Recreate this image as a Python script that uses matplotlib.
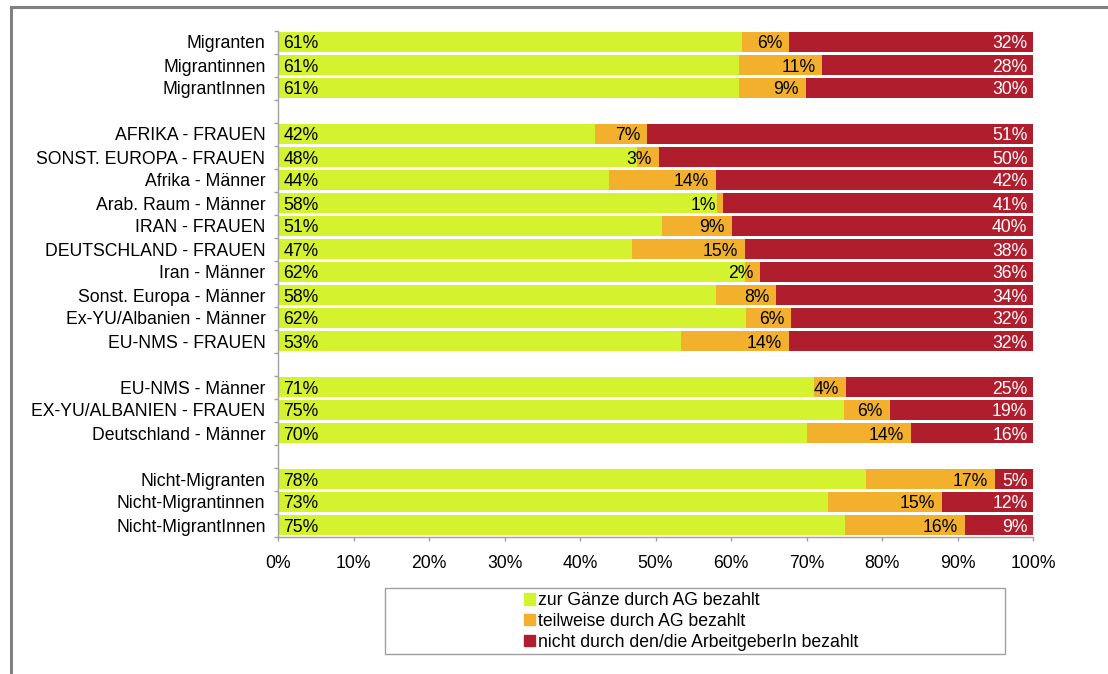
import matplotlib.pyplot as plt
from matplotlib.patches import Rectangle, Patch
from matplotlib.lines import Line2D
import numpy as np

plt.rcParams['font.family'] = ['Liberation Sans', 'DejaVu Sans']
plt.rcParams['font.size'] = 12.7

# data (shares in %), top to bottom
categories = ['Migranten', 'Migrantinnen', 'MigrantInnen',
              'AFRIKA - FRAUEN', 'SONST. EUROPA - FRAUEN', 'Afrika - Männer',
              'Arab. Raum - Männer', 'IRAN - FRAUEN', 'DEUTSCHLAND - FRAUEN',
              'Iran - Männer', 'Sonst. Europa - Männer', 'Ex-YU/Albanien - Männer',
              'EU-NMS - FRAUEN',
              'EU-NMS - Männer', 'EX-YU/ALBANIEN - FRAUEN', 'Deutschland - Männer',
              'Nicht-Migranten', 'Nicht-Migrantinnen', 'Nicht-MigrantInnen']
group_sizes = [3, 10, 3, 3]
full = [61.4, 61.0, 61.0,
        42.0, 47.6, 43.8, 58.1, 50.9, 46.9, 61.9, 58.0, 62.0, 53.4,
        71.0, 75.0, 70.0,
        77.9, 72.8, 75.1]
partial = [6.3, 11.1, 8.9,
           6.9, 2.8, 14.2, 0.8, 9.2, 15.0, 2.0, 8.0, 6.0, 14.3,
           4.2, 6.0, 13.8,
           17.1, 15.2, 15.9]
nopay = [32.3, 27.9, 30.1,
         51.1, 49.6, 42.0, 41.1, 39.9, 38.1, 36.1, 34.0, 32.0, 32.3,
         24.8, 19.0, 16.2,
         5.0, 12.0, 9.0]
series_names = ['zur Gänze durch AG bezahlt', 'teilweise durch AG bezahlt',
                'nicht durch den/die ArbeitgeberIn bezahlt']

c_green = '#D4F22E'
c_orange = '#F2B02C'
c_red = '#B01E2E'
grey = '#A0A0A0'

# slot positions with an empty slot between groups
slots = []
s = 0
for g in group_sizes:
    slots += list(range(s, s + g))
    s += g + 1
last = slots[-1]
y = np.array(slots)

full = np.array(full)
partial = np.array(partial)
nopay = np.array(nopay)

W, H = 1108, 674
fig = plt.figure(figsize=(W / 100, H / 100), dpi=100)
ax = fig.add_axes([278 / W, 1 - 536.5 / H, (1033 - 278) / W, (536.5 - 30.5) / H])

h = 0.85
ax.barh(y, full, height=h, color=c_green, label=series_names[0])
ax.barh(y, partial, left=full, height=h, color=c_orange, label=series_names[1])
ax.barh(y, nopay, left=full + partial, height=h, color=c_red, label=series_names[2])

for yi, a, b, c in zip(y, full, partial, nopay):
    ax.annotate(f'{round(a)}%', (0, yi), xytext=(4, 0), textcoords='offset points',
                ha='left', va='center_baseline', color='black')
    ax.annotate(f'{round(b)}%', (a + b, yi), xytext=(-5, 0), textcoords='offset points',
                ha='right', va='center_baseline', color='black')
    ax.annotate(f'{round(c)}%', (100, yi), xytext=(-4, 0), textcoords='offset points',
                ha='right', va='center_baseline', color='white')

ax.set_xlim(0, 100)
ax.set_ylim(last + 0.5, -0.5)
ax.set_xticks(np.arange(0, 101, 10))
ax.set_xticklabels([f'{v}%' for v in range(0, 101, 10)])
ax.set_yticks(y)
ax.set_yticklabels(categories)
ax.set_yticks(np.arange(-0.5, last + 1, 1), minor=True)
ax.tick_params(axis='y', which='major', length=0, pad=9)
ax.tick_params(axis='y', which='minor', length=3, color=grey, width=1)
ax.tick_params(axis='x', length=3, color=grey, width=1, pad=10)
for sp in ['top', 'right']:
    ax.spines[sp].set_visible(False)
for sp in ['left', 'bottom']:
    ax.spines[sp].set_color(grey)
    ax.spines[sp].set_linewidth(1)

# legend box
fig.patches.append(Rectangle((385 / W, 1 - 654 / H), (1005 - 385) / W, (654 - 588) / H,
                             transform=fig.transFigure, fill=False, edgecolor=grey, lw=1))
handles = [Patch(color=c_green), Patch(color=c_orange), Patch(color=c_red)]
fig.legend(handles, series_names, loc='upper left', bbox_to_anchor=(524 / W, 1 - 592 / H),
           frameon=False, borderpad=0, handlelength=0.62, handleheight=0.62,
           handletextpad=0.2, labelspacing=0.22, borderaxespad=0)

# outer frame lines
fig.add_artist(Line2D([10.5 / W, 1], [1 - 6.5 / H, 1 - 6.5 / H], transform=fig.transFigure,
                      color='#808080', lw=2.2))
fig.add_artist(Line2D([10.5 / W, 10.5 / W], [0, 1 - 6.5 / H], transform=fig.transFigure,
                      color='#808080', lw=2.2))

fig.savefig('out.png', dpi=100, facecolor='white')
